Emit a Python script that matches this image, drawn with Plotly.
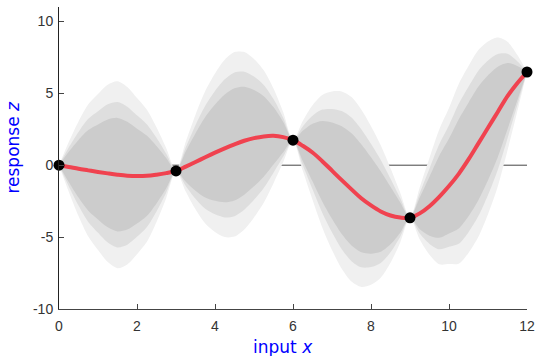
import plotly.graph_objects as go

# observations
obs_x = [0, 3, 6, 9, 12]
obs_z = [0.0, -0.40, 1.74, -3.66, 6.48]

# posterior grid
grid_x = [i * 0.25 for i in range(49)]
post_mean = [
    0.0, -0.12, -0.25, -0.36, -0.47, -0.57, -0.66, -0.73, -0.76, -0.74, -0.66, -0.55,
    -0.40, -0.10, 0.22, 0.55, 0.87, 1.17, 1.45, 1.70, 1.88, 2.00, 2.04, 1.95,
    1.74, 1.35, 0.88, 0.28, -0.38, -1.04, -1.68, -2.30, -2.80, -3.22, -3.50, -3.64,
    -3.66, -3.35, -2.85, -2.20, -1.45, -0.60, 0.40, 1.50, 2.60, 3.70, 4.80, 5.70,
    6.48,
]
post_sd = [
    0.0, 1.05, 2.0, 2.8, 3.3, 3.75, 3.95, 3.75, 3.3, 2.8, 2.0, 1.05,
    0.0, 1.05, 2.0, 2.8, 3.35, 3.75, 3.9, 3.75, 3.35, 2.8, 2.0, 1.05,
    0.0, 1.05, 2.0, 2.8, 3.35, 3.75, 3.9, 3.75, 3.35, 2.8, 2.0, 1.05,
    0.0, 1.1, 2.05, 2.85, 3.3, 3.8, 3.95, 3.95, 3.65, 3.15, 2.3, 1.2,
    0.0,
]
band_z = [1.645, 1.28, 1.0]
band_colors = ["#f0f0f0", "#dedede", "#cccccc"]

x_ticks = [0, 2, 4, 6, 8, 10, 12]
y_ticks = [-10, -5, 0, 5, 10]
y_ticktext = ["-10", "-5", "0", "5", "10"]
x_range = [0, 12]
y_range = [-10, 11]

fig = go.Figure()

# zero reference line, underneath the bands
fig.add_trace(go.Scatter(x=x_range, y=[0, 0], mode="lines",
                         line=dict(color="#444444", width=1), hoverinfo="skip", showlegend=False))

for z, col in zip(band_z, band_colors):
    lower = [m - z * s for m, s in zip(post_mean, post_sd)]
    upper = [m + z * s for m, s in zip(post_mean, post_sd)]
    fig.add_trace(go.Scatter(x=grid_x, y=lower, mode="lines",
                             line=dict(width=0, shape="spline", smoothing=0.8),
                             hoverinfo="skip", showlegend=False))
    fig.add_trace(go.Scatter(x=grid_x, y=upper, mode="lines",
                             line=dict(width=0, shape="spline", smoothing=0.8),
                             fill="tonexty", fillcolor=col, hoverinfo="skip", showlegend=False))

fig.add_trace(go.Scatter(x=grid_x, y=post_mean, mode="lines",
                         line=dict(color="#f0424f", width=4, shape="spline"), showlegend=False))
fig.add_trace(go.Scatter(x=obs_x, y=obs_z, mode="markers", cliponaxis=False,
                         marker=dict(color="black", size=11), showlegend=False))

tick_font = dict(family="Liberation Sans, Arial, sans-serif", size=14, color="#333333")
title_font = dict(family="DejaVu Sans, sans-serif", size=17, color="#0000ff")
fig.update_layout(
    width=536, height=356,
    margin=dict(l=59, r=9, t=7, b=47),
    plot_bgcolor="white", paper_bgcolor="white",
    xaxis=dict(range=x_range, tickvals=x_ticks, ticks="inside", ticklen=5, tickcolor="#444444",
               showline=True, linecolor="#444444", linewidth=1, showgrid=False, zeroline=False,
               tickfont=tick_font, automargin=False, ticklabeloverflow="allow",
               ticklabelstandoff=4),
    yaxis=dict(range=y_range, tickvals=y_ticks, ticktext=y_ticktext, ticks="inside", ticklen=5,
               tickcolor="#444444", showline=True, linecolor="#222222", linewidth=1,
               showgrid=False, zeroline=False, tickfont=tick_font, automargin=False,
               ticklabelstandoff=2),
    annotations=[
        dict(text="input <i>x</i>", xref="paper", yref="paper", x=0.478, y=-0.125,
             xanchor="center", yanchor="middle", showarrow=False, font=title_font),
        dict(text="response <i>z</i>", xref="paper", yref="paper", x=-0.098, y=0.535,
             xanchor="center", yanchor="middle", textangle=-90, showarrow=False, font=title_font),
    ],
)

fig.write_html("out.html", post_script="document.body.style.margin='0px';",
               config={"displayModeBar": False})
